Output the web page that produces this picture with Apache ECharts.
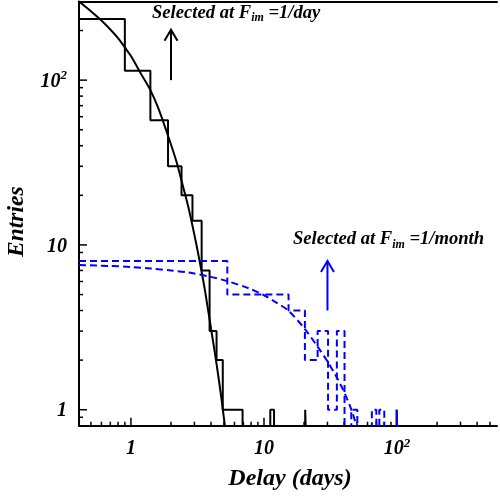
<!DOCTYPE html>
<html><head><meta charset="utf-8">
<script src="https://cdn.jsdelivr.net/npm/echarts@6/dist/echarts.min.js"></script>
<style>html,body{margin:0;padding:0;background:#fff}#c{width:500px;height:496px}</style>
</head><body><div id="c"></div>
<script>
// ---- axis ranges and ticks ----
const X_MIN = 0.407, X_MAX = 564, Y_MIN = 0.8, Y_MAX = 300;
const FLOOR = 0.5; // empty bin level (below axis, clipped)
const tickValues = [1, 10, 100];
const tickLabels = ['1', '10', '10^2'];
const xMinorTicks = [0.5,0.6,0.7,0.8,0.9,2,3,4,5,6,7,8,9,20,30,40,50,60,70,80,90,200,300,400,500];
const yMinorTicks = [0.9,2,3,4,5,6,7,8,9,20,30,40,50,60,70,80,90,200];

// ---- histogram "Selected at F_im = 1/day" (black, solid) ----
const dayEdges  = [X_MIN, 0.9, 1.4, 1.9, 2.4, 2.9, 3.4, 3.9, 4.4, 4.9, 6.9, 11.15, 11.9, 20.4, 20.9, 99.3, 99.8];
const dayCounts = [235, 114, 57, 30, 20, 14, 7, 3, 2, 1, 0, 1, 0, 1, 0, 1];

// ---- histogram "Selected at F_im = 1/month" (blue, dashed) ----
const monthEdges  = [X_MIN, 5.3, 15.3, 20.3, 25.3, 30.3, 35.3, 40.3, 45.3, 50.3, 64.7, 69.9, 73.6, 80.2, 99.6, 100.1];
const monthCounts = [8, 5, 4, 2, 3, 1, 3, 0, 1, 0, 1, 0, 1, 0, 1];

// ---- fitted curves ----
const dayFitX = [0.407, 0.5, 0.6, 0.7, 0.8, 0.9, 1.0, 1.2, 1.4, 1.6, 1.9, 2.2, 2.4, 2.7, 3.0, 3.3, 3.6, 4.0, 4.4, 4.8, 5.1];
const dayFitY = [300, 262, 230, 203, 180, 158, 140, 108, 87, 68, 46, 32, 24.5, 17, 11.5, 7.8, 5.3, 3.1, 1.9, 1.15, 0.78];
const monthFitX = [0.407, 0.7, 1.0, 1.4, 2.0, 2.7, 4.0, 5.4, 7.7, 10, 12.5, 15.2, 19.9, 24.7, 29.8, 34.8, 40, 45.8, 50];
const monthFitY = [7.55, 7.45, 7.35, 7.2, 7.0, 6.8, 6.4, 6.0, 5.45, 4.95, 4.45, 4.0, 3.15, 2.48, 1.98, 1.6, 1.28, 0.98, 0.78];

// ---- arrows [x, yFrom, yTo] ----
const arrowDay = [2, 100, 202];
const arrowMonth = [30, 4, 8];

const FONT = "'Liberation Serif', 'Times New Roman', serif";
const BLUE = '#0000ff';

function stepPath(edges, counts) {
  const pts = [];
  for (let i = 0; i < counts.length; i++) {
    const c = counts[i] > 0 ? counts[i] : FLOOR;
    pts.push([edges[i], c], [edges[i + 1], c]);
  }
  pts.push([edges[edges.length - 1], FLOOR]);
  return pts;
}
function zip(xs, ys) { return xs.map((x, i) => [x, ys[i]]); }

function fmt(v) {
  const i = tickValues.findIndex(t => Math.abs(t - v) / t < 1e-6);
  if (i < 0) return '';
  const s = tickLabels[i];
  if (s.indexOf('^') >= 0) { const p = s.split('^'); return '{n|' + p[0] + '}{sup|' + p[1] + '}'; }
  return '{n|' + s + '}';
}
const labelRich = {
  n: { fontFamily: FONT, fontSize: 20, fontWeight: 'bold', fontStyle: 'italic', color: '#000', lineHeight: 22, padding: [3, 0, 0, 0] },
  sup: { fontFamily: FONT, fontSize: 13, fontWeight: 'bold', fontStyle: 'italic', color: '#000', lineHeight: 22, padding: [3, 0, 11, 0] }
};

function tickSeries(values, isX, len) {
  return {
    type: 'custom', silent: true, clip: false, z: 1,
    data: values.map(v => isX ? [v, Y_MIN] : [X_MIN, v]),
    renderItem: function (params, api) {
      const p = api.coord([api.value(0), api.value(1)]);
      return { type: 'line',
        shape: isX ? { x1: p[0], y1: p[1], x2: p[0], y2: p[1] - len } : { x1: p[0], y1: p[1], x2: p[0] + len, y2: p[1] },
        style: { stroke: '#000', lineWidth: 1.5 } };
    }
  };
}
function arrowSeries(a, color) {
  return {
    type: 'custom', silent: true, clip: false, z: 3,
    data: [a],
    renderItem: function (params, api) {
      const p0 = api.coord([api.value(0), api.value(1)]);
      const p1 = api.coord([api.value(0), api.value(2)]);
      return { type: 'group', children: [
        { type: 'line', shape: { x1: p0[0], y1: p0[1], x2: p1[0], y2: p1[1] }, style: { stroke: color, lineWidth: 2 } },
        { type: 'polyline', shape: { points: [[p1[0] - 6.5, p1[1] + 11], [p1[0], p1[1]], [p1[0] + 6.5, p1[1] + 11]] },
          style: { stroke: color, lineWidth: 2, fill: null } }
      ] };
    }
  };
}

const chart = echarts.init(document.getElementById('c'), null, { renderer: 'canvas' });
const textTok = (size, color) => ({ fontFamily: FONT, fontSize: size, fontWeight: 'bold', fontStyle: 'italic', color: color, lineHeight: 24 });
chart.setOption({
  animation: false,
  backgroundColor: '#fff',
  grid: { left: 79, right: 0, top: 1.5, bottom: 70.3, containLabel: false },
  xAxis: [{
    type: 'log', min: X_MIN, max: X_MAX, logBase: 10,
    axisLine: { show: true, lineStyle: { color: '#000', width: 2 } },
    axisTick: { show: false }, minorTick: { show: false }, splitLine: { show: false },
    axisLabel: { formatter: fmt, margin: 11, rich: labelRich }
  }, {
    type: 'log', min: X_MIN, max: X_MAX, position: 'top',
    axisLine: { show: true, onZero: false, lineStyle: { color: '#000', width: 2 } },
    axisTick: { show: false }, axisLabel: { show: false }, splitLine: { show: false }
  }],
  yAxis: {
    type: 'log', min: Y_MIN, max: Y_MAX, logBase: 10,
    axisLine: { show: true, lineStyle: { color: '#000', width: 2 } },
    axisTick: { show: false }, minorTick: { show: false }, splitLine: { show: false },
    axisLabel: { formatter: fmt, margin: 12, rich: labelRich }
  },
  series: [
    tickSeries(tickValues, true, 8),
    tickSeries(xMinorTicks, true, 4),
    tickSeries(tickValues, false, 8),
    tickSeries(yMinorTicks, false, 4),
    { type: 'line', data: stepPath(dayEdges, dayCounts), symbol: 'none', clip: true, z: 2,
      lineStyle: { color: '#000', width: 2 } },
    { type: 'line', data: zip(dayFitX, dayFitY), symbol: 'none', clip: true, smooth: 0.3, z: 2,
      lineStyle: { color: '#000', width: 2 } },
    { type: 'line', data: stepPath(monthEdges, monthCounts), symbol: 'none', clip: true, z: 2,
      lineStyle: { color: BLUE, width: 2, type: [7, 4] } },
    { type: 'line', data: zip(monthFitX, monthFitY), symbol: 'none', clip: true, smooth: 0.3, z: 2,
      lineStyle: { color: BLUE, width: 2, type: [7, 4] } },
    arrowSeries(arrowDay, '#000'),
    arrowSeries(arrowMonth, BLUE)
  ],
  graphic: [
    { type: 'text', x: 152, y: 12.9, z: 10, style: {
        text: '{a|Selected at F}{s|im}{a| =1/day}', align: 'left', verticalAlign: 'middle',
        rich: { a: textTok(18.6, '#000'), s: Object.assign(textTok(12, '#000'), { padding: [11, 0, 0, 0] }) } } },
    { type: 'text', x: 293, y: 239.4, z: 10, style: {
        text: '{a|Selected at F}{s|im}{a| =1/month}', align: 'left', verticalAlign: 'middle',
        rich: { a: textTok(18.6, BLUE), s: Object.assign(textTok(12, BLUE), { padding: [11, 0, 0, 0] }) } } },
    { type: 'text', x: 17, y: 221.7, rotation: Math.PI / 2, z: 10, style: {
        text: 'Entries', align: 'center', verticalAlign: 'middle', fill: '#000',
        font: "italic bold 23.5px " + FONT } },
    { type: 'text', x: 290, y: 479, z: 10, style: {
        text: 'Delay (days)', align: 'center', verticalAlign: 'middle', fill: '#000',
        font: "italic bold 24px " + FONT } }
  ]
});
</script></body></html>
